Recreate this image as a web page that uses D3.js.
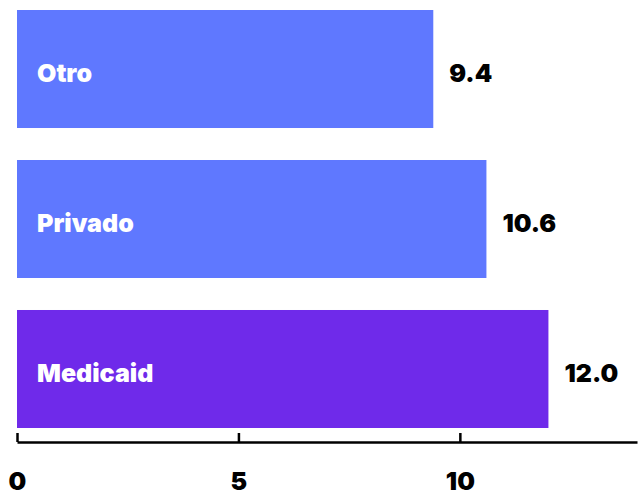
<!DOCTYPE html>
<html>
<head>
<meta charset="utf-8">
<script src="https://cdn.jsdelivr.net/npm/d3@7"></script>
<style>
  body { margin: 0; background: #fff; }
  text { font-family: Inter, "Open Sans", sans-serif; }
</style>
</head>
<body>
<script>
// chart data
var categories = ["Otro", "Privado", "Medicaid"];
var values = [9.4, 10.6, 12.0];
var barColors = ["#5f78ff", "#5f78ff", "#6f2aea"];
var tickValues = [0, 5, 10];

var W = 644, H = 497;

var svg = d3.select("body").append("svg")
    .attr("width", W)
    .attr("height", H);

var x = d3.scaleLinear().domain([0, 14]).range([17, 637]);
var y = d3.scaleBand().domain(categories).range([10, 428]).paddingInner(0.2133).paddingOuter(0);

var rows = categories.map(function (c, i) {
    return { label: c, value: values[i], color: barColors[i] };
});

// bars
svg.selectAll("rect.bar")
    .data(rows)
    .enter()
    .append("rect")
    .attr("class", "bar")
    .attr("x", x(0))
    .attr("y", function (d) { return y(d.label); })
    .attr("width", function (d) { return x(d.value) - x(0); })
    .attr("height", y.bandwidth())
    .attr("fill", function (d) { return d.color; });

// labels inside bars
svg.selectAll("text.cat")
    .data(rows)
    .enter()
    .append("text")
    .attr("class", "cat")
    .attr("x", x(0) + 20)
    .attr("y", function (d) { return y(d.label) + y.bandwidth() / 2; })
    .attr("dy", "0.52em")
    .attr("fill", "#fff")
    .attr("font-size", "25px")
    .attr("font-weight", 900)
    .text(function (d) { return d.label; });

// value labels
svg.selectAll("text.val")
    .data(rows)
    .enter()
    .append("text")
    .attr("class", "val")
    .attr("x", function (d) { return x(d.value) + 16; })
    .attr("y", function (d) { return y(d.label) + y.bandwidth() / 2; })
    .attr("dy", "0.52em")
    .attr("fill", "#000")
    .attr("font-size", "25px")
    .attr("font-weight", 900)
    .text(function (d) { return d.value.toFixed(1); });

// x axis, ticks pointing up
var axis = d3.axisBottom(x)
    .tickValues(tickValues)
    .tickSizeInner(-9)
    .tickSizeOuter(0)
    .tickPadding(30)
    .tickFormat(d3.format("d"));

var g = svg.append("g")
    .attr("transform", "translate(0,442)")
    .call(axis);

g.select(".domain").attr("stroke", "#000").attr("stroke-width", 2.5);
g.selectAll(".tick line").attr("stroke", "#000").attr("stroke-width", 2.5);
g.selectAll(".tick text")
    .attr("fill", "#000")
    .attr("font-size", "25px")
    .attr("font-weight", 900)
    .style("font-family", "Inter, sans-serif");
</script>
</body>
</html>
